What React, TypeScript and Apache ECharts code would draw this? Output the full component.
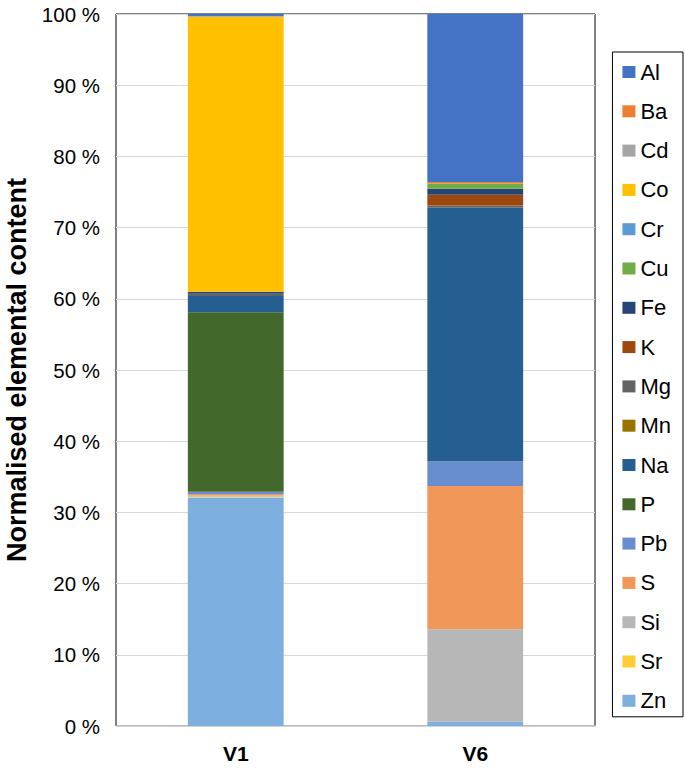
import React, { useEffect, useRef } from "react";
import * as echarts from "echarts";

const categories = ["V1", "V6"];
const legendOrder = ["Al", "Ba", "Cd", "Co", "Cr", "Cu", "Fe", "K", "Mg", "Mn", "Na", "P", "Pb", "S", "Si", "Sr", "Zn"];
const stackOrder = ["Zn", "Sr", "Si", "S", "Pb", "P", "Na", "Mn", "Mg", "K", "Fe", "Cu", "Cr", "Co", "Cd", "Ba", "Al"];

// values in % for [V1, V6]
const Zn = [32.1, 0.6];
const Sr = [0.1, 0];
const Si = [0.2, 13.0];
const S = [0.2, 20.1];
const Pb = [0.3, 3.5];
const P = [25.2, 0];
const Na = [2.3, 35.6];
const Mn = [0, 0];
const Mg = [0.3, 0.3];
const K = [0, 1.5];
const Fe = [0.3, 0.85];
const Cu = [0, 0.75];
const Cr = [0, 0];
const Co = [38.6, 0];
const Cd = [0.1, 0];
const Ba = [0, 0.2];
const Al = [0.3, 23.6];

const yTicks = [0, 10, 20, 30, 40, 50, 60, 70, 80, 90, 100];

const seriesData: Record<string, number[]> = { Zn, Sr, Si, S, Pb, P, Na, Mn, Mg, K, Fe, Cu, Cr, Co, Cd, Ba, Al };

const colors: Record<string, string> = {
  Al: "#4472C4",
  Ba: "#ED7D31",
  Cd: "#A5A5A5",
  Co: "#FFC000",
  Cr: "#5B9BD5",
  Cu: "#70AD47",
  Fe: "#264478",
  K: "#9E480E",
  Mg: "#636363",
  Mn: "#997300",
  Na: "#255E91",
  P: "#43682B",
  Pb: "#698ED0",
  S: "#F1975A",
  Si: "#B7B7B7",
  Sr: "#FFCD33",
  Zn: "#7CAFDD",
};

export default function App() {
  const ref = useRef<HTMLDivElement>(null);
  useEffect(() => {
    if (!ref.current) return;
    const chart = echarts.init(ref.current, null, { renderer: "svg" });
    const font = "Liberation Sans, Arial, sans-serif";
    chart.setOption({
      animation: false,
      textStyle: { fontFamily: font },
      grid: {
        left: 116,
        right: 90,
        top: 14,
        bottom: 42,
        containLabel: false,
        outerBoundsMode: "none",
        show: true,
        borderColor: "#000",
        borderWidth: 1,
        backgroundColor: "transparent",
      },
      legend: {
        orient: "vertical",
        right: 2,
        top: 52,
        data: legendOrder,
        icon: "rect",
        itemWidth: 13,
        itemHeight: 12,
        itemGap: 15.3,
        borderColor: "#000",
        borderWidth: 1,
        padding: [8, 12, 4, 10],
        textStyle: { fontSize: 22, color: "#000", fontFamily: font, lineHeight: 24 },
      },
      xAxis: {
        type: "category",
        data: categories,
        axisLine: { show: true, lineStyle: { color: "#d0d0d0", width: 1.5 } },
        axisTick: { show: false },
        axisLabel: { fontSize: 21, fontWeight: "bold", color: "#000", margin: 17, fontFamily: font },
      },
      yAxis: {
        type: "value",
        min: yTicks[0],
        max: yTicks[yTicks.length - 1],
        interval: 10,
        name: "Normalised elemental content",
        nameLocation: "middle",
        nameGap: 86,
        nameTextStyle: { fontSize: 27, fontWeight: "bold", color: "#000", fontFamily: font },
        axisLine: { show: false },
        axisTick: { show: false },
        axisLabel: { formatter: "{value} %", fontSize: 20.5, color: "#000", margin: 16, fontFamily: font },
        splitLine: { lineStyle: { color: "#d9d9d9", width: 1 } },
      },
      series: stackOrder.map((name) => ({
        name,
        type: "bar",
        stack: "total",
        barWidth: "40%",
        data: seriesData[name],
        itemStyle: { color: colors[name] },
      })),
    });
    return () => chart.dispose();
  }, []);
  return <div ref={ref} style={{ width: 685, height: 768, position: "absolute", left: 0, top: 0 }} />;
}
